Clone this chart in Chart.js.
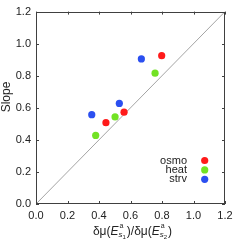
<!DOCTYPE html>
<html><head><meta charset="utf-8">
<script src="https://cdn.jsdelivr.net/npm/chart.js@4"></script>
<style>html,body{margin:0;padding:0;background:#fff;}#wrap{width:246px;height:245px;}</style>
</head><body><div id="wrap"><canvas id="c" width="246" height="245"></canvas></div>
<script>
const seriesNames = ["osmo", "heat", "strv"];
const seriesColors = ["#ff1a1a", "#72e224", "#2b4ff0"];
const osmoX = [0.444, 0.559, 0.798];
const osmoY = [0.507, 0.573, 0.925];
const heatX = [0.379, 0.502, 0.756];
const heatY = [0.428, 0.543, 0.816];
const strvX = [0.354, 0.529, 0.669];
const strvY = [0.557, 0.627, 0.905];
const diagX = [0, 1.2];
const diagY = [0, 1.2];
const tickValues = [0, 0.2, 0.4, 0.6, 0.8, 1.0, 1.2];

const xs = [osmoX, heatX, strvX], ys = [osmoY, heatY, strvY];
const FONT = '"Liberation Sans", Arial, sans-serif';

const datasets = seriesNames.map((n, i) => ({
  label: n, type: 'scatter',
  data: xs[i].map((x, j) => ({x: x, y: ys[i][j]})),
  backgroundColor: seriesColors[i], borderColor: seriesColors[i],
  pointRadius: 3.6, pointBorderWidth: 0, order: 1
}));
datasets.unshift({
  label: 'diag', type: 'line',
  data: diagX.map((x, j) => ({x: x, y: diagY[j]})),
  borderColor: '#9a9a9a', borderWidth: 0.9, pointRadius: 0, fill: false, order: 2
});

const deco = {
  id: 'deco',
  afterDraw(chart) {
    const ctx = chart.ctx, a = chart.chartArea;
    const sx = chart.scales.x, sy = chart.scales.y;
    ctx.save();
    // frame
    ctx.strokeStyle = '#404040'; ctx.lineWidth = 1;
    ctx.strokeRect(Math.round(a.left) + 0.5, Math.round(a.top) + 0.5, Math.round(a.right - a.left) - 1, Math.round(a.bottom - a.top) - 1);
    // inward ticks
    ctx.beginPath();
    tickValues.forEach(v => {
      const px = Math.round(sx.getPixelForValue(v)) + 0.5;
      ctx.moveTo(px, a.bottom); ctx.lineTo(px, a.bottom - 3);
      ctx.moveTo(px, a.top); ctx.lineTo(px, a.top + 3);
      const py = Math.round(sy.getPixelForValue(v)) + 0.5;
      ctx.moveTo(a.left, py); ctx.lineTo(a.left + 3, py);
      ctx.moveTo(a.right, py); ctx.lineTo(a.right - 3, py);
    });
    ctx.stroke();
    // y title
    ctx.fillStyle = '#222';
    ctx.font = '12px ' + FONT;
    ctx.textAlign = 'center'; ctx.textBaseline = 'middle';
    ctx.save();
    ctx.translate(7, 97);
    ctx.rotate(-Math.PI / 2);
    ctx.fillText('Slope', 0, 0);
    ctx.restore();
    // x title with sub/superscripts
    const parts = [
      {t: 'δμ(', f: '12px', dy: 0},
      {t: 'E', f: 'italic 12px', dy: 0, sup: 'a', sub: 's', subsub: '1'},
      {t: ')/δμ(', f: '12px', dy: 0},
      {t: 'E', f: 'italic 12px', dy: 0, sup: 'a', sub: 's', subsub: '2'},
      {t: ')', f: '12px', dy: 0}
    ];
    ctx.textAlign = 'left'; ctx.textBaseline = 'alphabetic';
    const measure = () => {
      let w = 0;
      parts.forEach(p => {
        ctx.font = p.f + ' ' + FONT; w += ctx.measureText(p.t).width;
        if (p.sub) {
          ctx.font = 'italic 8px ' + FONT; const ws = ctx.measureText(p.sub).width;
          ctx.font = '6px ' + FONT; const wss = ctx.measureText(p.subsub).width;
          w += Math.max(ws + wss, 5) + 1;
        }
      });
      return w;
    };
    const total = measure();
    let x = (a.left + a.right) / 2 - total / 2 + 2;
    const base = 235;
    parts.forEach(p => {
      ctx.font = p.f + ' ' + FONT; ctx.fillText(p.t, x, base);
      x += ctx.measureText(p.t).width;
      if (p.sub) {
        ctx.font = '7px ' + FONT; ctx.fillText(p.sup, x + 1, base - 7);
        ctx.font = 'italic 8px ' + FONT; ctx.fillText(p.sub, x, base + 2);
        const ws = ctx.measureText(p.sub).width;
        ctx.font = '6px ' + FONT; ctx.fillText(p.subsub, x + ws, base + 4);
        const wss = ctx.measureText(p.subsub).width;
        x += Math.max(ws + wss, 5) + 1;
      }
    });
    // legend
    ctx.font = '11px ' + FONT; ctx.textAlign = 'right'; ctx.textBaseline = 'middle';
    seriesNames.forEach((n, i) => {
      const yy = 160.5 + i * 9.4;
      ctx.fillStyle = '#222'; ctx.fillText(n, 187, yy);
      ctx.fillStyle = seriesColors[i];
      ctx.beginPath(); ctx.arc(204.7, yy, 3.6, 0, Math.PI * 2); ctx.fill();
    });
    ctx.restore();
  }
};

new Chart(document.getElementById('c'), {
  type: 'scatter',
  data: {datasets: datasets},
  options: {
    responsive: false, animation: false, devicePixelRatio: 1,
    layout: {padding: {left: 0, right: 21, top: 5, bottom: 0}},
    plugins: {legend: {display: false}, tooltip: {enabled: false}},
    scales: {
      x: {
        type: 'linear', min: 0, max: 1.2,
        afterFit: s => { s.height = 41; },
        afterBuildTicks: s => { s.ticks = tickValues.map(v => ({value: v})); },
        grid: {display: false, drawTicks: false},
        border: {display: false},
        ticks: {padding: 5, color: '#222', font: {family: FONT, size: 11}, maxRotation: 0,
                callback: v => Number(v).toFixed(1)}
      },
      y: {
        type: 'linear', min: 0, max: 1.2,
        afterFit: s => { s.width = 36; },
        afterBuildTicks: s => { s.ticks = tickValues.map(v => ({value: v})); },
        grid: {display: false, drawTicks: false},
        border: {display: false},
        ticks: {padding: 5, color: '#222', font: {family: FONT, size: 11},
                callback: v => Number(v).toFixed(1)}
      }
    }
  },
  plugins: [deco]
});
</script></body></html>
